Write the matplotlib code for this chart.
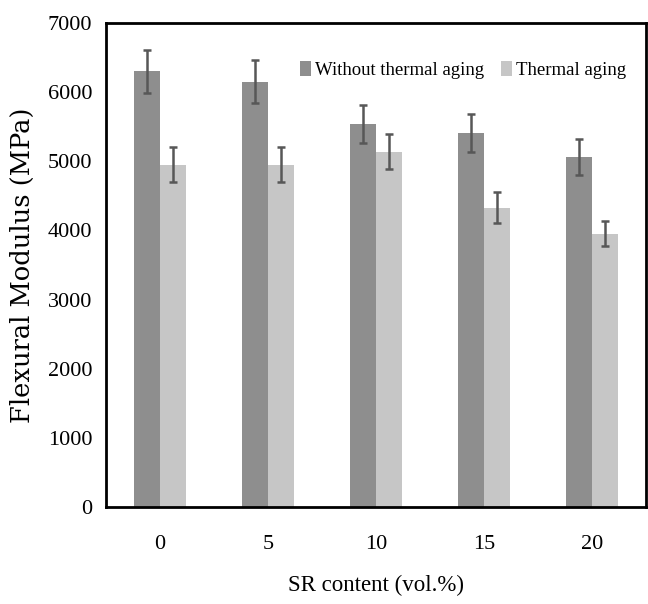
import matplotlib.pyplot as plt
import numpy as np

plt.rcParams['font.family'] = ['Liberation Serif', 'DejaVu Serif']

# Data
sr_content = ['0', '5', '10', '15', '20']
without_aging = [6300, 6150, 5540, 5410, 5060]
without_err = [315, 310, 280, 280, 265]
with_aging = [4950, 4950, 5140, 4330, 3950]
with_err = [250, 250, 250, 220, 180]

fig = plt.figure(figsize=(6.48, 6.04), dpi=100)
ax = fig.add_axes([0.1636, 0.1606, 0.8333, 0.8013])

x = np.arange(len(sr_content))
w = 0.24
err_style = dict(ecolor='#575757', elinewidth=1.8, capsize=3.2, capthick=1.8)

ax.bar(x - w / 2, without_aging, w, yerr=without_err, color='#8e8e8e',
       label='Without thermal aging', error_kw=err_style)
ax.bar(x + w / 2, with_aging, w, yerr=with_err, color='#c6c6c6',
       label='Thermal aging', error_kw=err_style)

ax.set_xlim(-0.5, len(sr_content) - 0.5)
ax.set_ylim(0, 7000)
ax.set_yticks(range(0, 7001, 1000))
ax.set_xticks(x)
ax.set_xticklabels(sr_content)
ax.tick_params(length=0, labelsize=16, pad=10)
ax.tick_params(axis='x', pad=20)

for s in ax.spines.values():
    s.set_linewidth(2.0)
    s.set_color('black')

ax.set_xlabel('SR content (vol.%)', fontsize=16.5, labelpad=15)
ax.set_ylabel('Flexural Modulus (MPa)', fontsize=18.5, family='DejaVu Serif',
              labelpad=9)

ax.legend(loc='center right', frameon=False, fontsize=13.5, ncol=2,
          handlelength=0.55, handleheight=0.9, handletextpad=0.25,
          columnspacing=0.9, borderaxespad=0,
          bbox_to_anchor=(0.978, 0.903))

fig.savefig('out.png', dpi=100)
